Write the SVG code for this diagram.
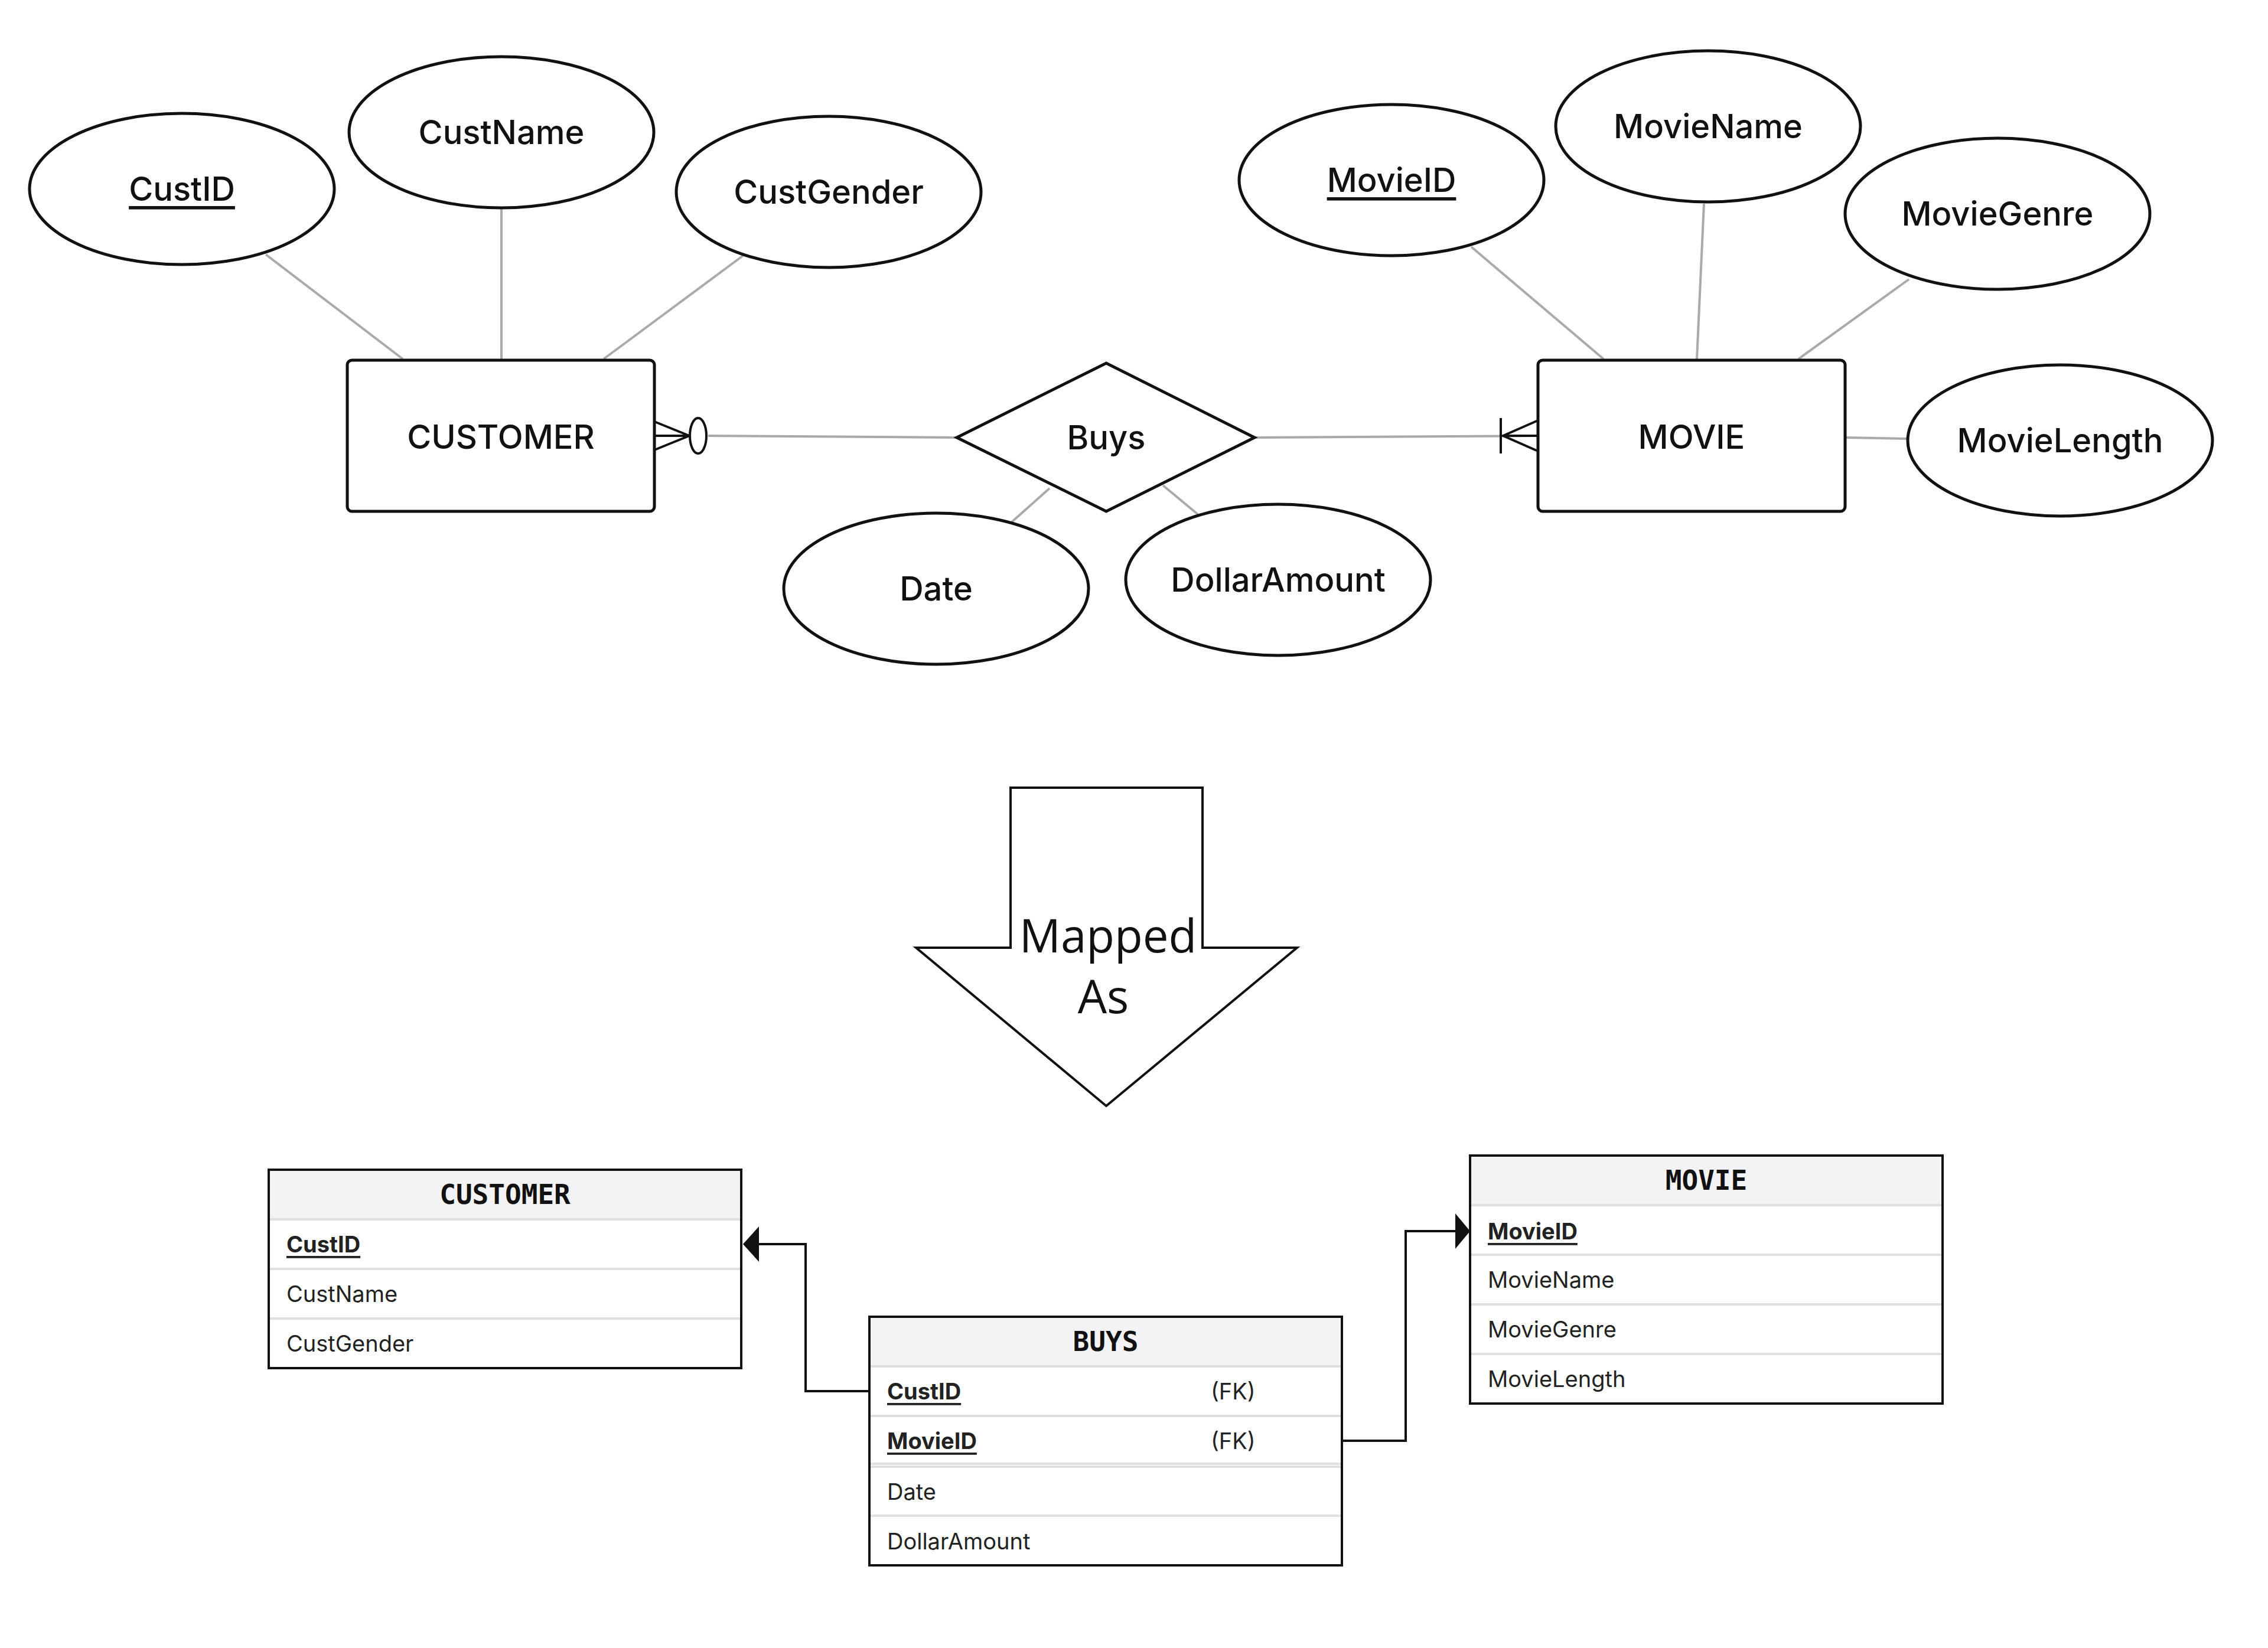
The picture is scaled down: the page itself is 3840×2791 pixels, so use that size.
<svg xmlns="http://www.w3.org/2000/svg" width="3840" height="2791" viewBox="0 0 3840 2791">
<defs>
<style>
.att{fill:#fff;stroke:#111;stroke-width:5}
.ent{fill:#fff;stroke:#111;stroke-width:5}
.ln{stroke:#aaa;stroke-width:4;fill:none}
.cf{stroke:#111;stroke-width:4;fill:none}
.t{font-family:Inter,"Noto Sans",sans-serif;font-size:56px;font-weight:500;fill:#111;text-anchor:middle;dominant-baseline:central}
.u{text-decoration:underline}
.tb{fill:#fff;stroke:#111;stroke-width:4}
.hd{fill:#f3f3f5}
.sep{stroke:#e0e0e0;stroke-width:4}
.th{font-family:"DejaVu Sans Mono","Liberation Mono",monospace;font-weight:bold;font-size:46px;fill:#111;text-anchor:middle;dominant-baseline:central}
.tr{font-family:Inter,"Noto Sans",sans-serif;font-size:38px;fill:#222;dominant-baseline:central}
.pk{font-weight:bold;text-decoration:underline}
.rel{stroke:#111;stroke-width:4;fill:none}
</style>
</defs>
<rect width="3840" height="2791" fill="#fff"/>
<g id="connectors">
<line class="ln" x1="450" y1="431" x2="682" y2="608"/>
<line class="ln" x1="849" y1="354" x2="849" y2="608"/>
<line class="ln" x1="1258" y1="433" x2="1022" y2="608"/>
<line class="ln" x1="2491" y1="418" x2="2715" y2="608"/>
<line class="ln" x1="2885" y1="345" x2="2873" y2="608"/>
<line class="ln" x1="3232" y1="473" x2="3045" y2="608"/>
<line class="ln" x1="3126" y1="741" x2="3230" y2="743"/>
<line class="ln" x1="1777" y1="827" x2="1713" y2="884"/>
<line class="ln" x1="1969" y1="822" x2="2028" y2="871"/>
<line class="ln" x1="1199" y1="738" x2="1620" y2="741"/>
<line class="ln" x1="2124" y1="741" x2="2604" y2="738"/>
<path class="cf" d="M1108 714 L1167 738 L1108 762 M1108 738 L1167 738"/>
<ellipse cx="1182" cy="738" rx="14" ry="30" fill="#fff" stroke="#111" stroke-width="4"/>
<path class="cf" d="M2604 712 L2545 738 L2604 764 M2545 738 L2604 738 M2541 708 L2541 768"/>
<path class="rel" d="M1472 2356 H1364 V2107 H1285"/>
<polygon points="1258,2107 1285,2077 1285,2137" fill="#111"/>
<path class="rel" d="M2272 2440 H2380 V2085 H2464"/>
<polygon points="2489,2085 2464,2055 2464,2115" fill="#111"/>
</g>
<g id="CustID"><ellipse class="att" cx="308" cy="320" rx="258" ry="128"/><text class="t u" x="308" y="320">CustID</text></g>
<g id="CustName"><ellipse class="att" cx="849" cy="224" rx="258" ry="128"/><text class="t" x="849" y="224">CustName</text></g>
<g id="CustGender"><ellipse class="att" cx="1403" cy="325" rx="258" ry="128"/><text class="t" x="1403" y="325">CustGender</text></g>
<g id="CUSTOMER"><rect class="ent" x="588" y="610" width="520" height="256" rx="8"/><text class="t" x="848" y="740">CUSTOMER</text></g>
<g id="MovieID"><ellipse class="att" cx="2356" cy="305" rx="258" ry="128"/><text class="t u" x="2356" y="305">MovieID</text></g>
<g id="MovieName"><ellipse class="att" cx="2892" cy="214" rx="258" ry="128"/><text class="t" x="2892" y="214">MovieName</text></g>
<g id="MovieGenre"><ellipse class="att" cx="3382" cy="362" rx="258" ry="128"/><text class="t" x="3382" y="362">MovieGenre</text></g>
<g id="MOVIE"><rect class="ent" x="2604" y="610" width="520" height="256" rx="8"/><text class="t" x="2864" y="740">MOVIE</text></g>
<g id="MovieLength"><ellipse class="att" cx="3488" cy="746" rx="258" ry="128"/><text class="t" x="3488" y="746">MovieLength</text></g>
<g id="Buys"><polygon class="ent" points="1620,741 1873,615 2124,741 1873,866"/><text class="t" x="1873" y="741">Buys</text></g>
<g id="Date"><ellipse class="att" cx="1585" cy="997" rx="258" ry="128"/><text class="t" x="1585" y="997">Date</text></g>
<g id="DollarAmount"><ellipse class="att" cx="2164" cy="982" rx="258" ry="128"/><text class="t" x="2164" y="982">DollarAmount</text></g>
<g id="MappedAs">
<polygon points="1711,1334 2036,1334 2036,1605 2196,1605 1873,1873 1551,1605 1711,1605" fill="#fff" stroke="#111" stroke-width="4"/>
<text x="1876" y="1583" font-family="'Open Sans','Noto Sans',sans-serif" font-size="78" fill="#111" text-anchor="middle" dominant-baseline="central">Mapped</text>
<text x="1868" y="1686" font-family="'Open Sans','Noto Sans',sans-serif" font-size="78" fill="#111" text-anchor="middle" dominant-baseline="central">As</text>
</g>
<g id="T_CUSTOMER">
<rect class="tb" x="455" y="1981" width="800" height="336"/>
<rect class="hd" x="457" y="1983" width="796" height="82"/>
<line class="sep" x1="457" y1="2065" x2="1253" y2="2065"/>
<line class="sep" x1="457" y1="2149" x2="1253" y2="2149"/>
<line class="sep" x1="457" y1="2233" x2="1253" y2="2233"/>
<rect x="455" y="1981" width="800" height="336" fill="none" stroke="#111" stroke-width="4"/>
<text class="th" x="855" y="2023">CUSTOMER</text>
<text class="tr pk" x="485" y="2107">CustID</text>
<text class="tr" x="485" y="2191">CustName</text>
<text class="tr" x="485" y="2275">CustGender</text>
</g>
<g id="T_MOVIE">
<rect class="tb" x="2489" y="1957" width="800" height="420"/>
<rect class="hd" x="2491" y="1959" width="796" height="82"/>
<line class="sep" x1="2491" y1="2041" x2="3287" y2="2041"/>
<line class="sep" x1="2491" y1="2125" x2="3287" y2="2125"/>
<line class="sep" x1="2491" y1="2209" x2="3287" y2="2209"/>
<line class="sep" x1="2491" y1="2293" x2="3287" y2="2293"/>
<rect x="2489" y="1957" width="800" height="420" fill="none" stroke="#111" stroke-width="4"/>
<text class="th" x="2889" y="1999">MOVIE</text>
<text class="tr pk" x="2519" y="2085">MovieID</text>
<text class="tr" x="2519" y="2167">MovieName</text>
<text class="tr" x="2519" y="2251">MovieGenre</text>
<text class="tr" x="2519" y="2335">MovieLength</text>
</g>
<g id="T_BUYS">
<rect class="tb" x="1472" y="2230" width="800" height="421"/>
<rect class="hd" x="1474" y="2232" width="796" height="82"/>
<line class="sep" x1="1474" y1="2314" x2="2270" y2="2314"/>
<line class="sep" x1="1474" y1="2398" x2="2270" y2="2398"/>
<line class="sep" x1="1474" y1="2479" x2="2270" y2="2479"/>
<line class="sep" x1="1474" y1="2484" x2="2270" y2="2484"/>
<line class="sep" x1="1474" y1="2567" x2="2270" y2="2567"/>
<rect x="1472" y="2230" width="800" height="421" fill="none" stroke="#111" stroke-width="4"/>
<text class="th" x="1872" y="2272">BUYS</text>
<text class="tr pk" x="1502" y="2356">CustID</text>
<text class="tr" x="2050" y="2356">(FK)</text>
<text class="tr pk" x="1502" y="2440">MovieID</text>
<text class="tr" x="2050" y="2440">(FK)</text>
<text class="tr" x="1502" y="2526">Date</text>
<text class="tr" x="1502" y="2610">DollarAmount</text>
</g>
</svg>
